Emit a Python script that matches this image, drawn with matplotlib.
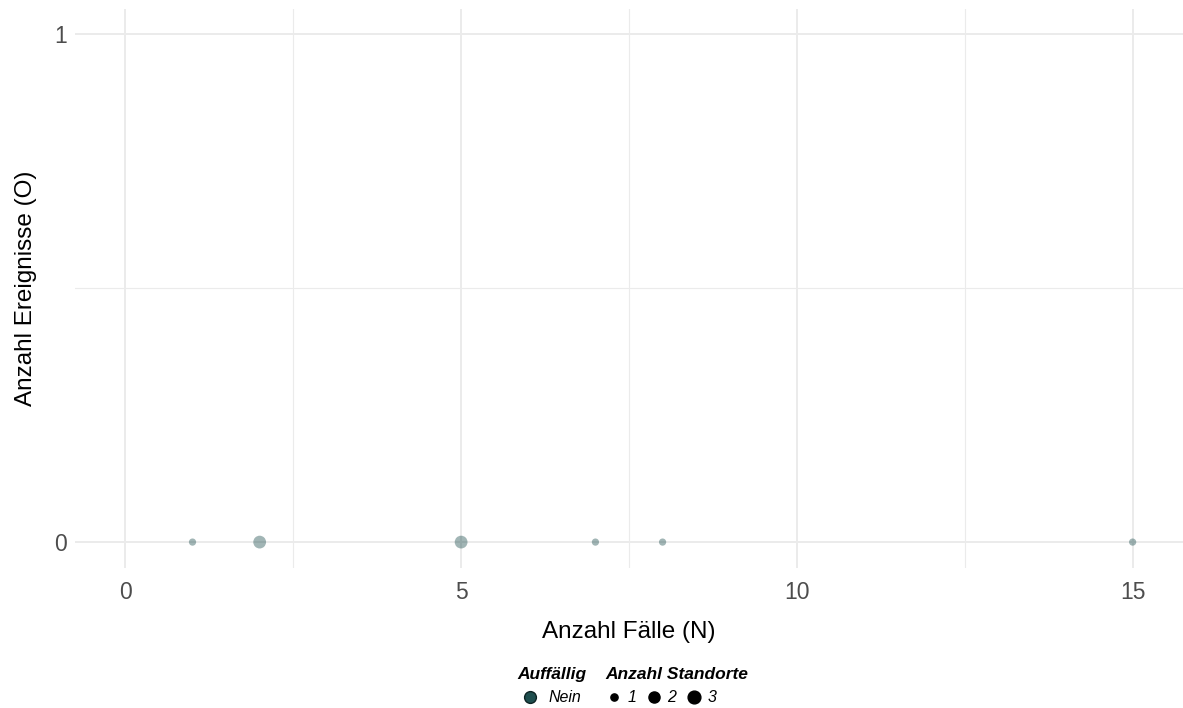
import matplotlib.pyplot as plt
from matplotlib.lines import Line2D

plt.rcParams['font.family'] = ['Liberation Sans', 'DejaVu Sans']

# data
faelle = [1, 2, 5, 7, 8, 15]
ereignisse = [0, 0, 0, 0, 0, 0]
standorte = [1, 3, 3, 1, 1, 1]
size_map = {1: 5.2, 2: 8.0, 3: 9.2}   # marker diameter in pt
pt_col = '#1f4f4f'

fig = plt.figure(figsize=(11.83, 7.08), dpi=100)
ax = fig.add_axes([75/1183, 1 - 567.5/708, 1 - 75/1183, (567.5 - 8.5)/708])

ax.scatter(faelle, ereignisse, s=[size_map[s]**2 for s in standorte],
           color=pt_col, alpha=0.42, linewidths=0, zorder=3)

ax.set_xlim(-0.75, 15.75)
ax.set_ylim(-0.05, 1.05)
ax.set_xticks([0, 5, 10, 15])
ax.set_xticks([2.5, 7.5, 12.5], minor=True)
ax.set_yticks([0, 1])
ax.set_yticks([0.5], minor=True)
ax.grid(which='major', color='#ebebeb', linewidth=1.4)
ax.grid(which='minor', color='#ebebeb', linewidth=0.8)
ax.set_axisbelow(True)
for s in ax.spines.values():
    s.set_visible(False)
ax.tick_params(which='both', length=0, labelsize=16.5, labelcolor='#4d4d4d')
ax.tick_params(axis='x', pad=10)
ax.tick_params(axis='y', pad=6)

ax.set_xlabel('Anzahl Fälle (N)', fontsize=17.5, labelpad=12)
ax.set_ylabel('Anzahl Ereignisse (O)', fontsize=17.5, labelpad=12)

# legends
h1 = [Line2D([], [], marker='o', linestyle='', markersize=8.5,
             markerfacecolor='#1f4f4f', markeredgecolor='#0d2424', markeredgewidth=1)]
leg1 = fig.legend(h1, ['Nein'], title='Auffällig', loc='upper left',
                  bbox_to_anchor=(506/1183, 1 - 656/708), frameon=False,
                  alignment='left', handletextpad=0.35, borderpad=0.2,
                  handlelength=1.6,
                  prop={'style': 'italic', 'size': 11.5},
                  title_fontproperties={'weight': 'bold', 'style': 'italic', 'size': 12.5})

h2 = [Line2D([], [], marker='o', linestyle='', markersize=size_map[k],
             color='black') for k in (1, 2, 3)]
leg2 = fig.legend(h2, ['1', '2', '3'], title='Anzahl Standorte', loc='upper left',
                  bbox_to_anchor=(594/1183, 1 - 656/708), frameon=False, ncol=3,
                  alignment='left', handletextpad=0.3, columnspacing=0.55,
                  handlelength=1.1, borderpad=0.2,
                  prop={'style': 'italic', 'size': 11.5},
                  title_fontproperties={'weight': 'bold', 'style': 'italic', 'size': 12.5})

fig.savefig('out.png', dpi=100)
